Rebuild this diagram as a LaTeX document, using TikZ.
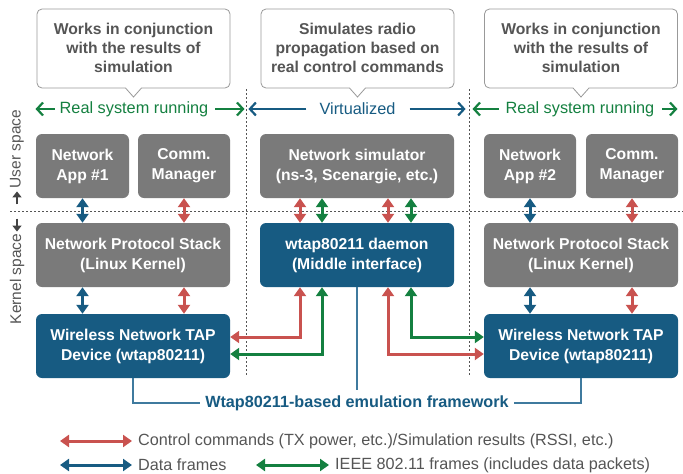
\documentclass[tikz,border=0pt]{standalone}
\usepackage{fontspec}
\setmainfont{Liberation Sans}
\usetikzlibrary{arrows.meta}

\definecolor{boxgray}{HTML}{7A7A7A}
\definecolor{tapblue}{HTML}{175B82}
\definecolor{ctrlred}{HTML}{C9524F}
\definecolor{frmgreen}{HTML}{148040}
\definecolor{txtgray}{HTML}{555555}
\definecolor{linegray}{HTML}{999999}
\definecolor{fwblue}{HTML}{3F7A9E}

\tikzset{
  basebox/.style={rectangle, rounded corners=6pt, text=white, align=center,
    inner sep=0pt, font=\bfseries\fontsize{15.7}{20}\selectfont},
  graybox/.style={basebox, fill=boxgray},
  bluebox/.style={basebox, fill=tapblue},
  callouttext/.style={align=center, inner sep=0pt, text=txtgray,
    font=\bfseries\fontsize{15.7}{19}\selectfont},
  calloutline/.style={draw=linegray, line width=0.8pt, fill=white},
  zonetext/.style={inner sep=0pt, font=\fontsize{16.3}{18}\selectfont},
  barb/.style={line width=2.2pt, -{Straight Barb[length=6pt,width=13pt]}},
  dualarr/.style={line width=3pt,
    {Triangle[width=12pt,length=9pt]}-{Triangle[width=12pt,length=9pt]}},
  redarr/.style={dualarr, draw=ctrlred},
  bluearr/.style={dualarr, draw=tapblue},
  greenarr/.style={dualarr, draw=frmgreen},
  divider/.style={draw=txtgray, line width=1pt, dash pattern=on 2pt off 2pt},
  sidelabel/.style={inner sep=0pt, text=txtgray, font=\fontsize{15.5}{18}\selectfont},
  sidearr/.style={draw=txtgray!80!black, line width=2.6pt, -{Triangle[width=9pt,length=6pt]}},
  fwline/.style={draw=fwblue, line width=1.1pt},
  fwtext/.style={inner sep=5pt, text=tapblue, font=\bfseries\fontsize{16.2}{18}\selectfont},
  legendtext/.style={inner sep=0pt, anchor=west, text=txtgray,
    font=\fontsize{16.2}{18}\selectfont},
}

\begin{document}
\begin{tikzpicture}[x=1pt, y=-1pt]
\useasboundingbox (0,0) rectangle (683,474);

% space dividers
\draw[divider] (10,211) -- (683,211);
\draw[divider] (246,89) -- (246,376);
\draw[divider] (469,89) -- (469,376);

% callouts
\foreach \cx in {133.5, 357.5, 581} {
  \draw[calloutline] (\cx,9) [rounded corners=5pt] -- (\cx+96.5,9) -- (\cx+96.5,88)
    [sharp corners] -- (\cx+8,88) -- (\cx,97) -- (\cx-8,88)
    [rounded corners=5pt] -- (\cx-96.5,88) -- (\cx-96.5,9) [sharp corners] -- cycle;
}
\node[callouttext] (c1) at (133.5,48) {Works in conjunction\\with the results of\\simulation};
\node[callouttext] (c2) at (357.5,48) {Simulates radio\\propagation based on\\real control commands};
\node[callouttext] (c3) at (581,48) {Works in conjunction\\with the results of\\simulation};

% zone labels
\node[zonetext, text=frmgreen] (rs1) at (134,109) {Real system running};
\draw[barb, draw=frmgreen] ([xshift=-5pt]rs1.west) -- ++(-19,0);
\draw[barb, draw=frmgreen] ([xshift=7pt]rs1.east) -- ++(29,0);
\node[zonetext, text=tapblue] (vz) at (357.5,109) {Virtualized};
\draw[barb, draw=tapblue] ([xshift=-13pt]vz.west) -- ++(-58,0);
\draw[barb, draw=tapblue] ([xshift=14pt]vz.east) -- ++(56,0);
\node[zonetext, text=frmgreen] (rs2) at (580,109) {Real system running};
\draw[barb, draw=frmgreen] ([xshift=-7pt]rs2.west) -- ++(-26,0);
\draw[barb, draw=frmgreen] ([xshift=8pt]rs2.east) -- ++(15,0);

% side labels
\node[sidelabel, rotate=90] (us) at (17,149) {User space};
\draw[sidearr] ([yshift=-16pt]us.west) -- ([yshift=-3pt]us.west);
\node[sidelabel, rotate=90] (ks) at (17,279) {Kernel space};
\draw[sidearr] ([yshift=15pt]ks.east) -- ([yshift=2pt]ks.east);

% user-space boxes
\node[graybox, minimum width=93pt, minimum height=64pt] (app1) at (82.5,166) {Network\\App \#1};
\node[graybox, minimum width=92pt, minimum height=64pt] (cm1) at (184,166) {Comm.\\Manager};
\node[graybox, minimum width=194pt, minimum height=64pt] (sim) at (357,166) {Network simulator\\(ns-3, Scenargie, etc.)};
\node[graybox, minimum width=92pt, minimum height=64pt] (app2) at (530,166) {Network\\App \#2};
\node[graybox, minimum width=92pt, minimum height=64pt] (cm2) at (632,166) {Comm.\\Manager};

% kernel-space boxes
\node[graybox, minimum width=194pt, minimum height=64pt] (stack1) at (133,255) {Network Protocol Stack\\(Linux Kernel)};
\node[bluebox, minimum width=194pt, minimum height=64pt] (daemon) at (357,255) {wtap80211 daemon\\(Middle interface)};
\node[graybox, minimum width=194pt, minimum height=64pt] (stack2) at (581,255) {Network Protocol Stack\\(Linux Kernel)};
\node[bluebox, minimum width=194pt, minimum height=64pt] (tap1) at (133,346) {Wireless Network TAP\\Device (wtap80211)};
\node[bluebox, minimum width=194pt, minimum height=64pt] (tap2) at (581,346) {Wireless Network TAP\\Device (wtap80211)};

% framework bracket
\node[fwtext] (fw) at (357,403) {Wtap80211-based emulation framework};
\draw[fwline] (tap1.south) |- (fw.west);
\draw[fwline] (tap2.south) |- (fw.east);
\draw[fwline] (daemon.south) -- (fw.north);

% left host links
\draw[bluearr] (app1.south) -- (app1.south |- stack1.north);
\draw[redarr] (cm1.south) -- (cm1.south |- stack1.north);
\draw[bluearr] (app1.south |- stack1.south) -- (app1.south |- tap1.north);
\draw[redarr] (cm1.south |- stack1.south) -- (cm1.south |- tap1.north);

% right host links
\draw[bluearr] (app2.south) -- (app2.south |- stack2.north);
\draw[redarr] (cm2.south) -- (cm2.south |- stack2.north);
\draw[bluearr] (app2.south |- stack2.south) -- (app2.south |- tap2.north);
\draw[redarr] (cm2.south |- stack2.south) -- (cm2.south |- tap2.north);

% simulator <-> daemon
\draw[redarr] ([xshift=-57pt]sim.south) -- ([xshift=-57pt]daemon.north);
\draw[greenarr] ([xshift=-35pt]sim.south) -- ([xshift=-35pt]daemon.north);
\draw[redarr] ([xshift=31pt]sim.south) -- ([xshift=31pt]daemon.north);
\draw[greenarr] ([xshift=54pt]sim.south) -- ([xshift=54pt]daemon.north);

% daemon <-> TAP devices
\draw[redarr] ([xshift=-57pt]daemon.south) |- ([yshift=9pt]tap1.east);
\draw[greenarr] ([xshift=-35pt]daemon.south) |- ([yshift=-8pt]tap1.east);
\draw[greenarr] ([xshift=54pt]daemon.south) |- ([yshift=9pt]tap2.west);
\draw[redarr] ([xshift=31pt]daemon.south) |- ([yshift=-8pt]tap2.west);

% legend
\coordinate (lg1) at (60,441);
\coordinate (lg2) at (60,465);
\coordinate (lg3) at (256,465);
\node[legendtext] (lt1) at (138,441) {Control commands (TX power, etc.)/Simulation results (RSSI, etc.)};
\node[legendtext] (lt2) at (138,465) {Data frames};
\node[legendtext] (lt3) at (335,465) {IEEE 802.11 frames (includes data packets)};
\draw[redarr] (lg1) -- ([xshift=-6pt]lt1.west);
\draw[bluearr] (lg2) -- ([xshift=-6pt]lt2.west);
\draw[greenarr] (lg3) -- ([xshift=-6pt]lt3.west);
\end{tikzpicture}
\end{document}
